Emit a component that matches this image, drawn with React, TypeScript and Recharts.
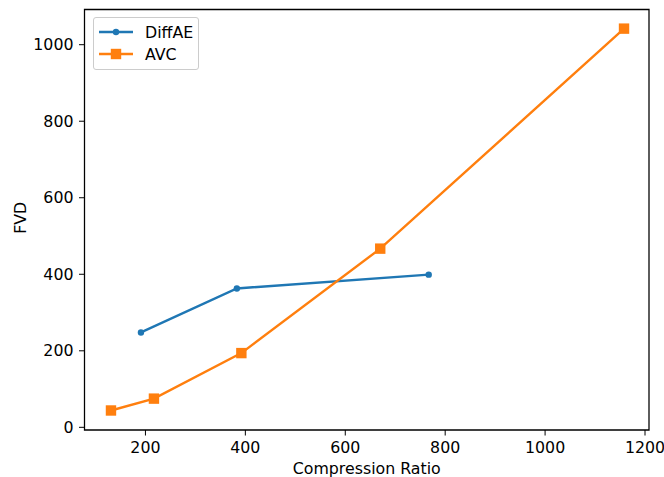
import React from 'react';
import {
  LineChart,
  Line,
  XAxis,
  YAxis,
  Legend,
  ReferenceArea,
  Label
} from 'recharts';

const diffae = [
  { ratio: 191, fvd: 248 },
  { ratio: 383, fvd: 363 },
  { ratio: 767, fvd: 399 },
];

const avc = [
  { ratio: 131, fvd: 44 },
  { ratio: 217, fvd: 75 },
  { ratio: 392, fvd: 194 },
  { ratio: 670, fvd: 467 },
  { ratio: 1158, fvd: 1042 },
];

const xTicks = [200, 400, 600, 800, 1000, 1200];
const yTicks = [0, 200, 400, 600, 800, 1000];

const X_DOMAIN = [78, 1208];
const Y_DOMAIN = [-7, 1092];

const BLUE = '#1f77b4';
const ORANGE = '#ff7f0e';
const FONT = '"DejaVu Sans", sans-serif';
const FS = 15.8;

const tickStyle = { fontSize: FS, fill: '#000', fontFamily: FONT };

const SquareDot = (props: any) => {
  const { cx, cy, index } = props;
  if (cx == null || cy == null) return null;
  return <rect key={`sq-${index}`} x={cx - 5.2} y={cy - 5.2} width={10.4} height={10.4} fill={ORANGE} />;
};

const renderLegend = () => {
  const rows = [
    { name: 'DiffAE', color: BLUE, square: false },
    { name: 'AVC', color: ORANGE, square: true },
  ];
  return (
    <div
      style={{
        background: 'rgba(255,255,255,0.8)',
        border: '1px solid #cccccc',
        borderRadius: 3,
        padding: '3px 5px 3px 5px',
        fontFamily: FONT,
        fontSize: FS,
        color: '#000',
      }}
    >
      {rows.map((r) => (
        <div key={r.name} style={{ display: 'flex', alignItems: 'center', height: 22.3 }}>
          <svg width={34} height={14} style={{ marginRight: 12 }}>
            <line x1={0} y1={7} x2={34} y2={7} stroke={r.color} strokeWidth={2.4} />
            {r.square ? (
              <rect x={11.8} y={1.8} width={10.4} height={10.4} fill={r.color} />
            ) : (
              <circle cx={17} cy={7} r={3.2} fill={r.color} />
            )}
          </svg>
          <span>{r.name}</span>
        </div>
      ))}
    </div>
  );
};

export default function App() {
  return (
    <div style={{ position: 'absolute', left: 0, top: 0 }}>
      <LineChart
        width={664}
        height={477}
        margin={{ top: 9.5, right: 15, bottom: 0, left: 0 }}
      >
        <XAxis
          type="number"
          dataKey="ratio"
          domain={X_DOMAIN}
          ticks={xTicks}
          allowDataOverflow
          height={47}
          tick={tickStyle}
          tickSize={5.5}
          tickMargin={6.5}
          stroke="#000"
          axisLine={false}
        >
          <Label
            value="Compression Ratio"
            position="center"
            dy={14.5}
            style={{ fontSize: FS, fill: '#000', fontFamily: FONT }}
          />
        </XAxis>
        <YAxis
          type="number"
          dataKey="fvd"
          domain={Y_DOMAIN}
          ticks={yTicks}
          allowDataOverflow
          width={84.5}
          tick={tickStyle}
          tickSize={5.5}
          tickMargin={5.5}
          stroke="#000"
          axisLine={false}
        >
          <Label
            value="FVD"
            position="center"
            angle={-90}
            dx={-22}
            dy={-2}
            style={{ fontSize: FS, fill: '#000', fontFamily: FONT }}
          />
        </YAxis>
        <ReferenceArea
          x1={X_DOMAIN[0]}
          x2={X_DOMAIN[1]}
          y1={Y_DOMAIN[0]}
          y2={Y_DOMAIN[1]}
          fill="none"
          stroke="#000"
          strokeWidth={1.27}
        />
        <Line
          data={diffae}
          dataKey="fvd"
          name="DiffAE"
          stroke={BLUE}
          strokeWidth={2.4}
          dot={{ r: 3.2, fill: BLUE, stroke: BLUE, strokeWidth: 0 }}
          activeDot={false}
          isAnimationActive={false}
        />
        <Line
          data={avc}
          dataKey="fvd"
          name="AVC"
          stroke={ORANGE}
          strokeWidth={2.4}
          dot={SquareDot}
          activeDot={false}
          isAnimationActive={false}
        />
        <Legend
          layout="vertical"
          align="center"
          verticalAlign="middle"
          content={renderLegend}
          wrapperStyle={{ left: 93, top: 17, width: 'auto' }}
        />
      </LineChart>
    </div>
  );
}
